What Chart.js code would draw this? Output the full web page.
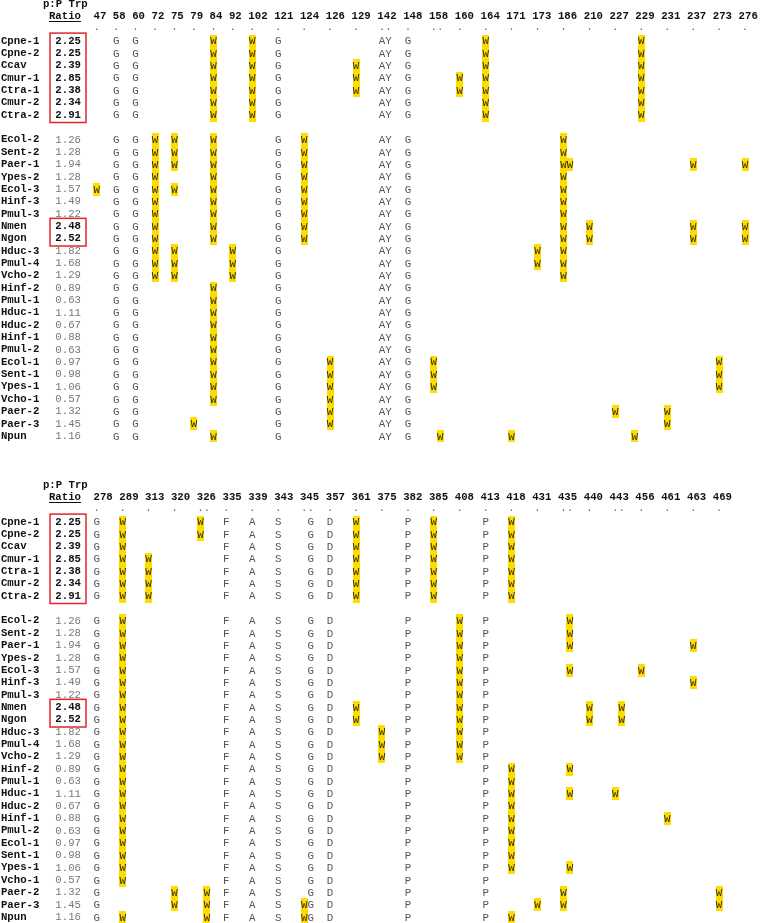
<!DOCTYPE html>
<html lang="en">
<head>
<meta charset="UTF-8">
<title>p:P Trp ratio alignment</title>
<style>
  html, body { margin: 0; padding: 0; background: #fff; overflow: hidden; }
  .panel { position: absolute; left: 0; width: 760px; }
  .panel canvas { display: block; }
  #panelTop { top: 0; }
  #panelBottom { top: 481px; }
</style>
</head>
<body>
<div class="panel" id="panelTop"><canvas id="chartTop" width="760" height="442"></canvas></div>
<div class="panel" id="panelBottom"><canvas id="chartBottom" width="760" height="442"></canvas></div>
<script src="https://cdn.jsdelivr.net/npm/chart.js@4.4.0/dist/chart.umd.min.js"></script>
<script>
// ---- data ----
var species = ['Cpne-1', 'Cpne-2', 'Ccav', 'Cmur-1', 'Ctra-1', 'Cmur-2', 'Ctra-2',
   'Ecol-2', 'Sent-2', 'Paer-1', 'Ypes-2', 'Ecol-3', 'Hinf-3', 'Pmul-3', 'Nmen', 'Ngon',
   'Hduc-3', 'Pmul-4', 'Vcho-2', 'Hinf-2', 'Pmul-1', 'Hduc-1', 'Hduc-2', 'Hinf-1', 'Pmul-2',
   'Ecol-1', 'Sent-1', 'Ypes-1', 'Vcho-1', 'Paer-2', 'Paer-3', 'Npun'];
var groupSizes = [7, 25];
var ratios = [2.25, 2.25, 2.39, 2.85, 2.38, 2.34, 2.91,
   1.26, 1.28, 1.94, 1.28, 1.57, 1.49, 1.22, 2.48, 2.52,
   1.82, 1.68, 1.29, 0.89, 0.63, 1.11, 0.67, 0.88, 0.63,
   0.97, 0.98, 1.06, 0.57, 1.32, 1.45, 1.16];

var topPositions = ['47', '58', '60', '72', '75', '79', '84', '92', '102', '121', '124', '126', '129',
   '142', '148', '158', '160', '164', '171', '173', '186', '210', '227', '229', '231', '237', '273', '276'];
var topDots = ['.', '.', '.', '.', '.', '.', '.', '.', '.', '.', '.', '.', '.',
   '..', '.', '..', '.', '.', '.', '.', '.', '.', '.', '.', '.', '.', '.', '.'];
var topCells = [
   {58: 'G', 60: 'G', 84: 'W', 102: 'W', 121: 'G', 142: 'AY', 148: 'G', 164: 'W', 229: 'W'},
   {58: 'G', 60: 'G', 84: 'W', 102: 'W', 121: 'G', 142: 'AY', 148: 'G', 164: 'W', 229: 'W'},
   {58: 'G', 60: 'G', 84: 'W', 102: 'W', 121: 'G', 129: 'W', 142: 'AY', 148: 'G', 164: 'W', 229: 'W'},
   {58: 'G', 60: 'G', 84: 'W', 102: 'W', 121: 'G', 129: 'W', 142: 'AY', 148: 'G', 160: 'W', 164: 'W', 229: 'W'},
   {58: 'G', 60: 'G', 84: 'W', 102: 'W', 121: 'G', 129: 'W', 142: 'AY', 148: 'G', 160: 'W', 164: 'W', 229: 'W'},
   {58: 'G', 60: 'G', 84: 'W', 102: 'W', 121: 'G', 142: 'AY', 148: 'G', 164: 'W', 229: 'W'},
   {58: 'G', 60: 'G', 84: 'W', 102: 'W', 121: 'G', 142: 'AY', 148: 'G', 164: 'W', 229: 'W'},
   {58: 'G', 60: 'G', 72: 'W', 75: 'W', 84: 'W', 121: 'G', 124: 'W', 142: 'AY', 148: 'G', 186: 'W'},
   {58: 'G', 60: 'G', 72: 'W', 75: 'W', 84: 'W', 121: 'G', 124: 'W', 142: 'AY', 148: 'G', 186: 'W'},
   {58: 'G', 60: 'G', 72: 'W', 75: 'W', 84: 'W', 121: 'G', 124: 'W', 142: 'AY', 148: 'G', 186: 'WW', 237: 'W', 276: 'W'},
   {58: 'G', 60: 'G', 72: 'W', 84: 'W', 121: 'G', 124: 'W', 142: 'AY', 148: 'G', 186: 'W'},
   {47: 'W', 58: 'G', 60: 'G', 72: 'W', 75: 'W', 84: 'W', 121: 'G', 124: 'W', 142: 'AY', 148: 'G', 186: 'W'},
   {58: 'G', 60: 'G', 72: 'W', 84: 'W', 121: 'G', 124: 'W', 142: 'AY', 148: 'G', 186: 'W'},
   {58: 'G', 60: 'G', 72: 'W', 84: 'W', 121: 'G', 124: 'W', 142: 'AY', 148: 'G', 186: 'W'},
   {58: 'G', 60: 'G', 72: 'W', 84: 'W', 121: 'G', 124: 'W', 142: 'AY', 148: 'G', 186: 'W', 210: 'W', 237: 'W', 276: 'W'},
   {58: 'G', 60: 'G', 72: 'W', 84: 'W', 121: 'G', 124: 'W', 142: 'AY', 148: 'G', 186: 'W', 210: 'W', 237: 'W', 276: 'W'},
   {58: 'G', 60: 'G', 72: 'W', 75: 'W', 92: 'W', 121: 'G', 142: 'AY', 148: 'G', 173: 'W', 186: 'W'},
   {58: 'G', 60: 'G', 72: 'W', 75: 'W', 92: 'W', 121: 'G', 142: 'AY', 148: 'G', 173: 'W', 186: 'W'},
   {58: 'G', 60: 'G', 72: 'W', 75: 'W', 92: 'W', 121: 'G', 142: 'AY', 148: 'G', 186: 'W'},
   {58: 'G', 60: 'G', 84: 'W', 121: 'G', 142: 'AY', 148: 'G'},
   {58: 'G', 60: 'G', 84: 'W', 121: 'G', 142: 'AY', 148: 'G'},
   {58: 'G', 60: 'G', 84: 'W', 121: 'G', 142: 'AY', 148: 'G'},
   {58: 'G', 60: 'G', 84: 'W', 121: 'G', 142: 'AY', 148: 'G'},
   {58: 'G', 60: 'G', 84: 'W', 121: 'G', 142: 'AY', 148: 'G'},
   {58: 'G', 60: 'G', 84: 'W', 121: 'G', 142: 'AY', 148: 'G'},
   {58: 'G', 60: 'G', 84: 'W', 121: 'G', 126: 'W', 142: 'AY', 148: 'G', 158: 'W', 273: 'W'},
   {58: 'G', 60: 'G', 84: 'W', 121: 'G', 126: 'W', 142: 'AY', 148: 'G', 158: 'W', 273: 'W'},
   {58: 'G', 60: 'G', 84: 'W', 121: 'G', 126: 'W', 142: 'AY', 148: 'G', 158: 'W', 273: 'W'},
   {58: 'G', 60: 'G', 84: 'W', 121: 'G', 126: 'W', 142: 'AY', 148: 'G'},
   {58: 'G', 60: 'G', 121: 'G', 126: 'W', 142: 'AY', 148: 'G', 227: 'W', 231: 'W'},
   {58: 'G', 60: 'G', 79: 'W', 121: 'G', 126: 'W', 142: 'AY', 148: 'G', 231: 'W'},
   {58: 'G', 60: 'G', 84: 'W', 121: 'G', 142: 'AY', 148: 'G', 158: ' W', 171: 'W', 227: '   W'}
];

var bottomPositions = ['278', '289', '313', '320', '326', '335', '339', '343', '345', '357', '361', '375', '382',
   '385', '408', '413', '418', '431', '435', '440', '443', '456', '461', '463', '469'];
var bottomDots = ['.', '.', '.', '.', '..', '.', '.', '.', '..', '.', '.', '.', '.',
   '.', '.', '.', '.', '.', '..', '.', '..', '.', '.', '.', '.'];
var bottomCells = [
   {278: 'G', 289: 'W', 326: 'W', 335: 'F', 339: 'A', 343: 'S', 345: ' G', 357: 'D', 361: 'W', 382: 'P', 385: 'W', 413: 'P', 418: 'W'},
   {278: 'G', 289: 'W', 326: 'W', 335: 'F', 339: 'A', 343: 'S', 345: ' G', 357: 'D', 361: 'W', 382: 'P', 385: 'W', 413: 'P', 418: 'W'},
   {278: 'G', 289: 'W', 335: 'F', 339: 'A', 343: 'S', 345: ' G', 357: 'D', 361: 'W', 382: 'P', 385: 'W', 413: 'P', 418: 'W'},
   {278: 'G', 289: 'W', 313: 'W', 335: 'F', 339: 'A', 343: 'S', 345: ' G', 357: 'D', 361: 'W', 382: 'P', 385: 'W', 413: 'P', 418: 'W'},
   {278: 'G', 289: 'W', 313: 'W', 335: 'F', 339: 'A', 343: 'S', 345: ' G', 357: 'D', 361: 'W', 382: 'P', 385: 'W', 413: 'P', 418: 'W'},
   {278: 'G', 289: 'W', 313: 'W', 335: 'F', 339: 'A', 343: 'S', 345: ' G', 357: 'D', 361: 'W', 382: 'P', 385: 'W', 413: 'P', 418: 'W'},
   {278: 'G', 289: 'W', 313: 'W', 335: 'F', 339: 'A', 343: 'S', 345: ' G', 357: 'D', 361: 'W', 382: 'P', 385: 'W', 413: 'P', 418: 'W'},
   {278: 'G', 289: 'W', 335: 'F', 339: 'A', 343: 'S', 345: ' G', 357: 'D', 382: 'P', 408: 'W', 413: 'P', 435: ' W'},
   {278: 'G', 289: 'W', 335: 'F', 339: 'A', 343: 'S', 345: ' G', 357: 'D', 382: 'P', 408: 'W', 413: 'P', 435: ' W'},
   {278: 'G', 289: 'W', 335: 'F', 339: 'A', 343: 'S', 345: ' G', 357: 'D', 382: 'P', 408: 'W', 413: 'P', 435: ' W', 463: 'W'},
   {278: 'G', 289: 'W', 335: 'F', 339: 'A', 343: 'S', 345: ' G', 357: 'D', 382: 'P', 408: 'W', 413: 'P'},
   {278: 'G', 289: 'W', 335: 'F', 339: 'A', 343: 'S', 345: ' G', 357: 'D', 382: 'P', 408: 'W', 413: 'P', 435: ' W', 456: 'W'},
   {278: 'G', 289: 'W', 335: 'F', 339: 'A', 343: 'S', 345: ' G', 357: 'D', 382: 'P', 408: 'W', 413: 'P', 463: 'W'},
   {278: 'G', 289: 'W', 335: 'F', 339: 'A', 343: 'S', 345: ' G', 357: 'D', 382: 'P', 408: 'W', 413: 'P'},
   {278: 'G', 289: 'W', 335: 'F', 339: 'A', 343: 'S', 345: ' G', 357: 'D', 361: 'W', 382: 'P', 408: 'W', 413: 'P', 440: 'W', 443: ' W'},
   {278: 'G', 289: 'W', 335: 'F', 339: 'A', 343: 'S', 345: ' G', 357: 'D', 361: 'W', 382: 'P', 408: 'W', 413: 'P', 440: 'W', 443: ' W'},
   {278: 'G', 289: 'W', 335: 'F', 339: 'A', 343: 'S', 345: ' G', 357: 'D', 375: 'W', 382: 'P', 408: 'W', 413: 'P'},
   {278: 'G', 289: 'W', 335: 'F', 339: 'A', 343: 'S', 345: ' G', 357: 'D', 375: 'W', 382: 'P', 408: 'W', 413: 'P'},
   {278: 'G', 289: 'W', 335: 'F', 339: 'A', 343: 'S', 345: ' G', 357: 'D', 375: 'W', 382: 'P', 408: 'W', 413: 'P'},
   {278: 'G', 289: 'W', 335: 'F', 339: 'A', 343: 'S', 345: ' G', 357: 'D', 382: 'P', 413: 'P', 418: 'W', 435: ' W'},
   {278: 'G', 289: 'W', 335: 'F', 339: 'A', 343: 'S', 345: ' G', 357: 'D', 382: 'P', 413: 'P', 418: 'W'},
   {278: 'G', 289: 'W', 335: 'F', 339: 'A', 343: 'S', 345: ' G', 357: 'D', 382: 'P', 413: 'P', 418: 'W', 435: ' W', 443: 'W'},
   {278: 'G', 289: 'W', 335: 'F', 339: 'A', 343: 'S', 345: ' G', 357: 'D', 382: 'P', 413: 'P', 418: 'W'},
   {278: 'G', 289: 'W', 335: 'F', 339: 'A', 343: 'S', 345: ' G', 357: 'D', 382: 'P', 413: 'P', 418: 'W', 461: 'W'},
   {278: 'G', 289: 'W', 335: 'F', 339: 'A', 343: 'S', 345: ' G', 357: 'D', 382: 'P', 413: 'P', 418: 'W'},
   {278: 'G', 289: 'W', 335: 'F', 339: 'A', 343: 'S', 345: ' G', 357: 'D', 382: 'P', 413: 'P', 418: 'W'},
   {278: 'G', 289: 'W', 335: 'F', 339: 'A', 343: 'S', 345: ' G', 357: 'D', 382: 'P', 413: 'P', 418: 'W'},
   {278: 'G', 289: 'W', 335: 'F', 339: 'A', 343: 'S', 345: ' G', 357: 'D', 382: 'P', 413: 'P', 418: 'W', 435: ' W'},
   {278: 'G', 289: 'W', 335: 'F', 339: 'A', 343: 'S', 345: ' G', 357: 'D', 382: 'P', 413: 'P'},
   {278: 'G', 320: 'W', 326: ' W', 335: 'F', 339: 'A', 343: 'S', 345: ' G', 357: 'D', 382: 'P', 413: 'P', 435: 'W', 469: 'W'},
   {278: 'G', 320: 'W', 326: ' W', 335: 'F', 339: 'A', 343: 'S', 345: 'WG', 357: 'D', 382: 'P', 413: 'P', 431: 'W', 435: 'W', 469: 'W'},
   {278: 'G', 289: 'W', 326: ' W', 335: 'F', 339: 'A', 343: 'S', 345: 'WG', 357: 'D', 382: 'P', 413: 'P', 418: 'W'}
];

// ---- layout (x in character units of the alignment, y in rows) ----
var CHAR_PX = 6.483, ORIGIN_PX = 93.46, ROW_PX = 12.35, FIRST_ROW_PX = 41;
var NAME_X = -14.27, TITLE_X = -4.34, RATIO_RIGHT = -1.92, BOX_L = -6.7, BOX_R = -1.15;
var HEAD_SCALE = 0.995;
var MONO = '"Liberation Mono", "DejaVu Sans Mono", monospace';

function columnStarts(positions) {
   var s = [], c = 0;
   positions.forEach(function (p) { s.push(c); c += p.length + 1; });
   return s;
}
function gridRow(i) { return i < groupSizes[0] ? i : i + 1; }

var mark = document.createElement('canvas');
mark.width = 7;
mark.height = 13;
var mctx = mark.getContext('2d');
mctx.fillStyle = '#ffdc00';
mctx.fillRect(0, 0, 7, 13);

function alignmentPlugin(positions, dots, starts) {
   return {
      id: 'alignmentText',
      afterDatasetsDraw: function (chart) {
         var ctx = chart.ctx, xs = chart.scales.x, ys = chart.scales.y;
         var px = function (u) { return xs.getPixelForValue(u); };
         var py = function (r) { return ys.getPixelForValue(r); };
         ctx.save();
         ctx.textBaseline = 'middle';
         ctx.fillStyle = '#111';
         ctx.font = 'bold 10.7px ' + MONO;
         ctx.textAlign = 'center';
         ctx.fillText('p:P Trp', px(TITLE_X), py(-3));
         ctx.textAlign = 'right';
         ctx.fillText('Ratio', px(RATIO_RIGHT), py(-2.03));
         var w = ctx.measureText('Ratio').width;
         ctx.strokeStyle = '#111';
         ctx.lineWidth = 1;
         ctx.beginPath();
         ctx.moveTo(px(RATIO_RIGHT) - w, Math.round(py(-2.03) + 5) + 0.5);
         ctx.lineTo(px(RATIO_RIGHT), Math.round(py(-2.03) + 5) + 0.5);
         ctx.stroke();

         // position numbers and the dots under them
         ctx.textAlign = 'center';
         positions.forEach(function (p, k) {
            ctx.fillText(p, px((starts[k] + p.length / 2) * HEAD_SCALE), py(-2.03));
         });
         ctx.font = '10.8px ' + MONO;
         ctx.fillStyle = '#666';
         ctx.textBaseline = 'alphabetic';
         dots.forEach(function (d, k) {
            for (var j = 0; j < d.length; j++) ctx.fillText('.', px(starts[k] + 0.5 + j), py(-0.93));
         });

         // species names and ratios
         ctx.textBaseline = 'middle';
         species.forEach(function (name, i) {
            var r = gridRow(i), hi = ratios[i] > 2;
            ctx.font = 'bold 10.7px ' + MONO;
            ctx.fillStyle = '#111';
            ctx.textAlign = 'left';
            ctx.fillText(name, px(NAME_X), py(r));
            ctx.font = (hi ? 'bold ' : '') + '10.7px ' + MONO;
            ctx.fillStyle = hi ? '#111' : '#777';
            ctx.textAlign = 'right';
            ctx.fillText(ratios[i].toFixed(2), px(RATIO_RIGHT), py(r));
         });

         // red boxes around runs of high ratios
         ctx.strokeStyle = '#e0262b';
         ctx.lineWidth = 1.5;
         var i = 0;
         while (i < ratios.length) {
            if (ratios[i] > 2) {
               var j = i;
               while (j + 1 < ratios.length && ratios[j + 1] > 2 && gridRow(j + 1) === gridRow(j) + 1) j++;
               var top = py(gridRow(i) - 0.64), bot = py(gridRow(j) + 0.6);
               ctx.strokeRect(px(BOX_L), top, px(BOX_R) - px(BOX_L), bot - top);
               i = j + 1;
            } else {
               i++;
            }
         }

         // residues
         ctx.textAlign = 'center';
         ctx.font = '10.8px ' + MONO;
         chart.data.datasets.forEach(function (ds, d) {
            ctx.fillStyle = d === 0 ? '#2e2a10' : '#555';
            chart.getDatasetMeta(d).data.forEach(function (el, k) {
               ctx.fillText(ds.data[k].ch, el.x, el.y + 0.5);
            });
         });
         ctx.restore();
      }
   };
}

function makePanel(canvasId, positions, dots, cells) {
   var starts = columnStarts(positions);
   var trp = [], other = [];
   cells.forEach(function (row, i) {
      positions.forEach(function (p, k) {
         var cell = row[p];
         if (!cell) return;
         for (var j = 0; j < cell.length; j++) {
            if (cell[j] === ' ') continue;
            var pt = {x: starts[k] + 0.5 + j, y: gridRow(i), ch: cell[j]};
            (cell[j] === 'W' ? trp : other).push(pt);
         }
      });
   });
   var canvas = document.getElementById(canvasId);
   return new Chart(canvas.getContext('2d'), {
      type: 'scatter',
      data: {
         datasets: [
            {label: 'Trp', data: trp, pointStyle: mark, pointRadius: 4, pointHoverRadius: 4},
            {label: 'other', data: other, pointRadius: 0, pointHoverRadius: 0}
         ]
      },
      options: {
         responsive: false,
         animation: false,
         events: [],
         layout: {padding: 0, autoPadding: false},
         plugins: {legend: {display: false}, tooltip: {enabled: false}},
         scales: {
            x: {type: 'linear', display: false, min: -ORIGIN_PX / CHAR_PX, max: (760 - ORIGIN_PX) / CHAR_PX},
            y: {type: 'linear', display: false, reverse: true,
               min: -FIRST_ROW_PX / ROW_PX, max: (canvas.height - FIRST_ROW_PX) / ROW_PX}
         }
      },
      plugins: [alignmentPlugin(positions, dots, starts)]
   });
}

makePanel('chartTop', topPositions, topDots, topCells);
makePanel('chartBottom', bottomPositions, bottomDots, bottomCells);
</script>
</body>
</html>
